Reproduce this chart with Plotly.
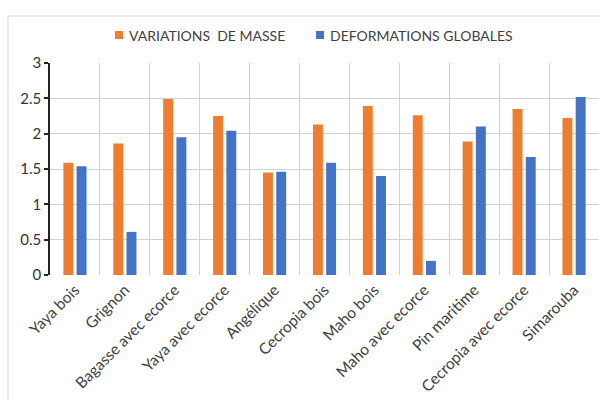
import plotly.graph_objects as go

# Wood species and measured values
species = ["Yaya bois", "Grignon", "Bagasse avec ecorce", "Yaya avec ecorce", "Angélique",
           "Cecropia bois", "Maho bois", "Maho avec ecorce", "Pin maritime",
           "Cecropia avec ecorce", "Simarouba"]
variations_masse = [1.59, 1.86, 2.49, 2.25, 1.45, 2.13, 2.39, 2.26, 1.89, 2.35, 2.22]
deformations_globales = [1.54, 0.61, 1.95, 2.04, 1.46, 1.59, 1.40, 0.20, 2.10, 1.67, 2.52]
y_ticks = [0, 0.5, 1, 1.5, 2, 2.5, 3]
series_names = ["VARIATIONS  DE MASSE", "DEFORMATIONS GLOBALES"]

ORANGE = "#ED7D31"
BLUE = "#4472C4"
TEXT = "#404040"
GRID = "#D0D0D0"
FONT = "Lato, Open Sans, sans-serif"

fig = go.Figure()
fig.add_trace(go.Bar(x=species, y=variations_masse, name=series_names[0],
                     marker=dict(color=ORANGE, line=dict(width=0))))
fig.add_trace(go.Bar(x=species, y=deformations_globales, name=series_names[1],
                     marker=dict(color=BLUE, line=dict(width=0))))

W, H = 599, 401
L, R, T, B = 50, 0, 63, 126
pw, ph = W - L - R, H - T - B

def px_x(x):
    return (x - L) / pw

def px_y(y):
    return (H - B - y) / ph

shapes = [
    # chart frame (top and left edges)
    dict(type="line", xref="paper", yref="paper", x0=px_x(8), x1=px_x(W + 5),
         y0=px_y(16), y1=px_y(16), line=dict(color="#D9D9D9", width=1)),
    dict(type="line", xref="paper", yref="paper", x0=px_x(8), x1=px_x(8),
         y0=px_y(16), y1=px_y(H + 5), line=dict(color="#D9D9D9", width=1)),
]
annotations = []

# legend drawn above the plot: colour key + series label
legend_items = [(115, ORANGE, series_names[0]), (316, BLUE, series_names[1])]
for x0, color, label in legend_items:
    shapes.append(dict(type="rect", xref="paper", yref="paper",
                       x0=px_x(x0), x1=px_x(x0 + 8), y0=px_y(39), y1=px_y(31),
                       fillcolor=color, line=dict(width=0)))
    annotations.append(dict(text=label, xref="paper", yref="paper",
                            x=px_x(x0 + 12), y=px_y(35), xanchor="left", yanchor="middle",
                            showarrow=False, font=dict(family=FONT, size=14, color=TEXT)))

fig.update_layout(
    width=W, height=H,
    margin=dict(l=L, r=R, t=T, b=B),
    paper_bgcolor="white", plot_bgcolor="white",
    font=dict(family=FONT, size=13, color=TEXT),
    barmode="group", bargap=0.47, bargroupgap=0.25,
    showlegend=False,
    xaxis=dict(tickangle=-45, showgrid=True, gridcolor=GRID, gridwidth=1,
               tickson="boundaries", ticks="", showline=False, zeroline=False,
               automargin=False, ticklabelstandoff=2,
               tickfont=dict(size=15.5, color=TEXT)),
    yaxis=dict(range=[0, 3], tickvals=y_ticks, ticktext=[f"{v:g}" for v in y_ticks],
               showgrid=True, gridcolor=GRID, gridwidth=1, zeroline=False,
               showline=True, linecolor="#222222", linewidth=1.5,
               ticks="outside", ticklen=4, tickcolor="#222222", tickwidth=1.5,
               automargin=False, tickfont=dict(size=15, color="#333333")),
    shapes=shapes,
    annotations=annotations,
)

fig.write_html("out.html")
